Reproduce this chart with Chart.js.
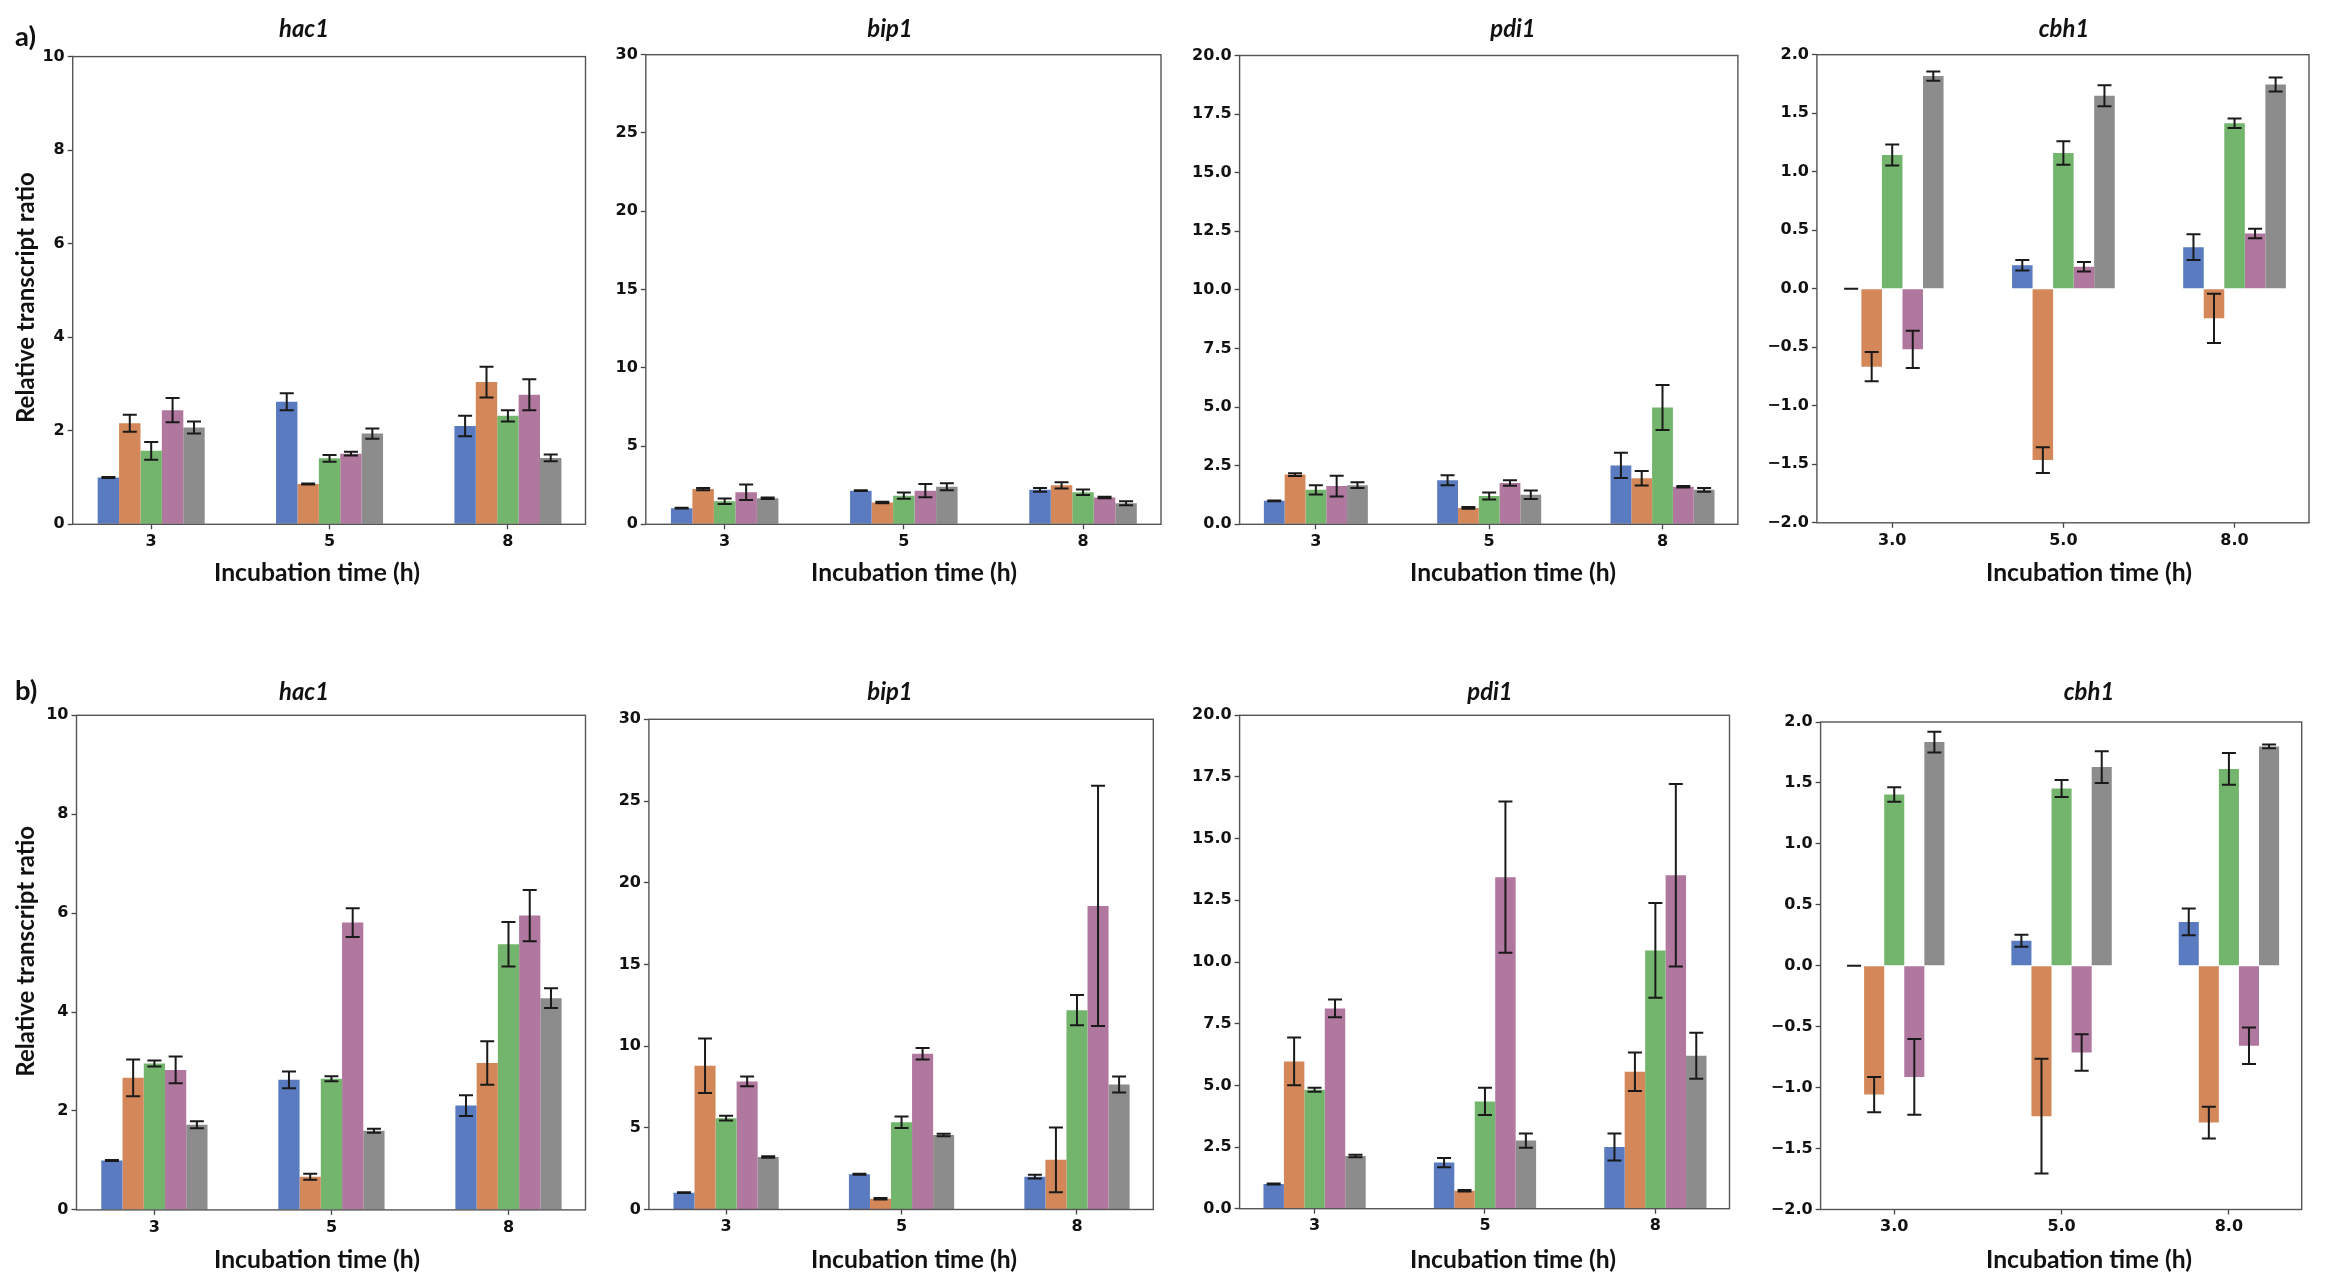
<!DOCTYPE html>
<html><head><meta charset="utf-8">
<script src="https://cdn.jsdelivr.net/npm/chart.js@4.4.1/dist/chart.umd.min.js"></script>
<style>
html,body{margin:0;padding:0;background:#fff;}
#wrap{position:relative;width:2328px;height:1288px;overflow:hidden;background:#fff;}
#wrap canvas{position:absolute;left:0;top:0;}
</style></head>
<body><div id="wrap"></div>
<script>
// ---------------- DATA ----------------
const timeLabels = ['3', '5', '8'];
const timeLabelsCbh = ['3.0', '5.0', '8.0'];
const seriesNames = ['Series 1', 'Series 2', 'Series 3', 'Series 4', 'Series 5'];
const seriesColors = ['#5A7BC0', '#D4885A', '#74B56D', '#B0779F', '#8C8C8C'];

// rows = series, columns = incubation time (3, 5, 8 h)
const hac1A    = [[1.00, 2.62, 2.10], [2.16, 0.86, 3.04], [1.57, 1.41, 2.32], [2.44, 1.51, 2.77], [2.07, 1.94, 1.42]];
const hac1AErr = [[0.01, 0.18, 0.22], [0.18, 0.01, 0.33], [0.19, 0.07, 0.12], [0.26, 0.04, 0.33], [0.13, 0.11, 0.07]];
const bip1A    = [[1.03, 2.15, 2.20], [2.25, 1.39, 2.49], [1.47, 1.83, 2.05], [2.05, 2.15, 1.71], [1.66, 2.40, 1.34]];
const bip1AErr = [[0.02, 0.03, 0.12], [0.07, 0.05, 0.20], [0.18, 0.20, 0.18], [0.49, 0.42, 0.05], [0.05, 0.22, 0.13]];
const pdi1A    = [[1.00, 1.88, 2.51], [2.12, 0.70, 1.96], [1.47, 1.21, 4.98], [1.63, 1.76, 1.60], [1.67, 1.26, 1.47]];
const pdi1AErr = [[0.02, 0.21, 0.54], [0.06, 0.04, 0.31], [0.20, 0.15, 0.96], [0.44, 0.12, 0.03], [0.12, 0.18, 0.08]];
const cbh1A    = [[0.00, 0.20, 0.355], [-0.666, -1.464, -0.253], [1.143, 1.16, 1.414], [-0.518, 0.188, 0.472], [1.817, 1.65, 1.745]];
const cbh1AErr = [[0.00, 0.045, 0.11], [0.125, 0.11, 0.21], [0.09, 0.10, 0.04], [0.16, 0.04, 0.04], [0.04, 0.09, 0.06]];

const hac1B    = [[1.00, 2.63, 2.11], [2.67, 0.67, 2.97], [2.96, 2.65, 5.37], [2.83, 5.81, 5.95], [1.72, 1.60, 4.28]];
const hac1BErr = [[0.01, 0.17, 0.21], [0.37, 0.06, 0.44], [0.06, 0.05, 0.45], [0.27, 0.29, 0.52], [0.07, 0.04, 0.20]];
const bip1B    = [[1.03, 2.16, 2.01], [8.80, 0.66, 3.04], [5.59, 5.34, 12.20], [7.84, 9.53, 18.58], [3.21, 4.56, 7.65]];
const bip1BErr = [[0.02, 0.03, 0.12], [1.67, 0.05, 1.98], [0.15, 0.35, 0.93], [0.30, 0.35, 7.35], [0.05, 0.07, 0.49]];
const pdi1B    = [[1.00, 1.87, 2.50], [5.97, 0.73, 5.55], [4.82, 4.35, 10.47], [8.12, 13.44, 13.52], [2.14, 2.76, 6.20]];
const pdi1BErr = [[0.02, 0.19, 0.55], [0.97, 0.03, 0.78], [0.08, 0.55, 1.92], [0.36, 3.07, 3.70], [0.05, 0.29, 0.93]];
const cbh1B    = [[0.00, 0.205, 0.36], [-1.057, -1.234, -1.287], [1.405, 1.455, 1.615], [-0.912, -0.712, -0.656], [1.835, 1.63, 1.80]];
const cbh1BErr = [[0.00, 0.05, 0.11], [0.145, 0.47, 0.13], [0.06, 0.07, 0.13], [0.31, 0.15, 0.15], [0.085, 0.13, 0.015]];

// ---------------- LAYOUT / STYLE ----------------
const W = 2328, H = 1288;
const rows = [
  {titleBase: 36.5, xTitleBase: 580.5, yTitleY: 297.6, letterBase: 46},
  {titleBase: 700,  xTitleBase: 1267.5, yTitleY: 951.3, letterBase: 700}
];
const panels = [
  {gene:'hac1', vals:hac1A, errs:hac1AErr, labels:timeLabels, y:[0,10,2,0],  area:[72.7,56.6,585.5,524.3],  titleX:304,  xTitleX:317,  row:0, yTitle:true, letter:'a)'},
  {gene:'bip1', vals:bip1A, errs:bip1AErr, labels:timeLabels, y:[0,30,5,0],  area:[645.8,54.7,1161,524.3],  titleX:890,  xTitleX:914,  row:0},
  {gene:'pdi1', vals:pdi1A, errs:pdi1AErr, labels:timeLabels, y:[0,20,2.5,1],area:[1239.6,55.5,1737.9,524.3],titleX:1513, xTitleX:1513, row:0},
  {gene:'cbh1', vals:cbh1A, errs:cbh1AErr, labels:timeLabelsCbh, y:[-2,2,0.5,1], area:[1816.9,54.7,2309,522.8], titleX:2064, xTitleX:2089, row:0},
  {gene:'hac1', vals:hac1B, errs:hac1BErr, labels:timeLabels, y:[0,10,2,0],  area:[76.5,715.3,585.5,1209.9], titleX:304,  xTitleX:317,  row:1, yTitle:true, letter:'b)'},
  {gene:'bip1', vals:bip1B, errs:bip1BErr, labels:timeLabels, y:[0,30,5,0],  area:[648.9,719.3,1153.3,1209.5],titleX:890,  xTitleX:914,  row:1},
  {gene:'pdi1', vals:pdi1B, errs:pdi1BErr, labels:timeLabels, y:[0,20,2.5,1],area:[1239.6,715.3,1729.5,1208.7],titleX:1490, xTitleX:1513, row:1},
  {gene:'cbh1', vals:cbh1B, errs:cbh1BErr, labels:timeLabelsCbh, y:[-2,2,0.5,1], area:[1820.6,722,2301.7,1209.5], titleX:2089, xTitleX:2089, row:1}
];
const TICK_FONT = {family:'DejaVu Sans', weight:'bold', size:16};
const TEXT_COLOR = '#111';
const Y_AXIS_W = 50, X_AXIS_H = 30;
// target rendered text widths (px) used to size the label fonts
const TEXT_FIT = {title: ['hac1', 50], xTitle: ['Incubation time (h)', 206], yTitle: ['Relative transcript ratio', 251], letter: ['a)', 21]};

function fittedFont(ctx, style, family, key) {
  const [sample, target] = TEXT_FIT[key];
  ctx.font = style + ' 20px ' + family;
  const w = ctx.measureText(sample).width || 1;
  const size = 20 * target / w;
  return style + ' ' + size.toFixed(2) + 'px ' + family;
}

const frameAndErrors = {
  id: 'frameAndErrors',
  afterDatasetsDraw(chart) {
    const ctx = chart.ctx, ys = chart.scales.y, a = chart.chartArea;
    ctx.save();
    ctx.strokeStyle = '#1a1a1a';
    ctx.lineWidth = 2;
    chart.data.datasets.forEach((ds, di) => {
      const meta = chart.getDatasetMeta(di);
      meta.data.forEach((bar, j) => {
        const v = ds.data[j].y, e = ds.errorBars[j];
        const x = bar.x, yHi = ys.getPixelForValue(v + e), yLo = ys.getPixelForValue(v - e);
        const cap = 7;
        ctx.beginPath();
        ctx.moveTo(x, yHi); ctx.lineTo(x, yLo);
        ctx.moveTo(x - cap, yHi); ctx.lineTo(x + cap, yHi);
        ctx.moveTo(x - cap, yLo); ctx.lineTo(x + cap, yLo);
        ctx.stroke();
      });
    });
    ctx.strokeStyle = '#555';
    ctx.lineWidth = 1.4;
    ctx.strokeRect(a.left, a.top, a.right - a.left, a.bottom - a.top);
    ctx.restore();
  }
};

const panelText = {
  id: 'panelText',
  afterDraw(chart, args, o) {
    const ctx = chart.ctx;
    ctx.save();
    ctx.fillStyle = TEXT_COLOR;
    ctx.textAlign = 'center';
    ctx.textBaseline = 'alphabetic';
    ctx.font = fittedFont(ctx, 'italic bold', 'Lato', 'title');
    ctx.fillText(o.title, o.titleX, o.titleBase);
    ctx.font = fittedFont(ctx, 'bold', 'Lato', 'xTitle');
    ctx.fillText(o.xTitle, o.xTitleX, o.xTitleBase);
    if (o.yTitle) {
      const f = fittedFont(ctx, 'bold', 'Lato', 'yTitle');
      ctx.save();
      ctx.translate(26, o.yTitleY);
      ctx.rotate(-Math.PI / 2);
      ctx.textBaseline = 'middle';
      ctx.font = f;
      ctx.fillText(o.yTitle, 0, 0);
      ctx.restore();
    }
    if (o.letter) {
      ctx.textAlign = 'left';
      ctx.font = fittedFont(ctx, 'bold', 'Lato', 'letter');
      ctx.fillText(o.letter, 15, o.letterBase);
    }
    ctx.restore();
  }
};

function fmtTick(v, dec) {
  const s = Math.abs(v).toFixed(dec);
  return (v < -1e-9 ? '\u2212' : '') + s;
}

const wrap = document.getElementById('wrap');
panels.forEach(p => {
  const cv = document.createElement('canvas');
  cv.width = W; cv.height = H;
  cv.style.width = W + 'px'; cv.style.height = H + 'px';
  wrap.appendChild(cv);
  const [L, T, R, B] = p.area;
  const r = rows[p.row];
  const [ymin, ymax, ystep, ydec] = p.y;
  new Chart(cv, {
    type: 'bar',
    data: {
      datasets: seriesNames.map((name, i) => ({
        label: name,
        data: p.vals[i].map((v, j) => ({x: j, y: v})),
        errorBars: p.errs[i],
        backgroundColor: seriesColors[i],
        borderWidth: 0,
        categoryPercentage: 0.6,
        barPercentage: 1.0
      }))
    },
    options: {
      responsive: false,
      animation: false,
      devicePixelRatio: 1,
      layout: {padding: {left: L - Y_AXIS_W, top: T, right: W - R, bottom: H - B - X_AXIS_H}},
      plugins: {
        legend: {display: false},
        tooltip: {enabled: false},
        panelText: {
          title: p.gene, titleX: p.titleX, titleBase: r.titleBase,
          xTitle: 'Incubation time (h)', xTitleX: p.xTitleX, xTitleBase: r.xTitleBase,
          yTitle: p.yTitle ? 'Relative transcript ratio' : null, yTitleY: r.yTitleY,
          letter: p.letter || null, letterBase: r.letterBase
        }
      },
      scales: {
        x: {
          type: 'linear', min: -0.44, max: 2.435, offset: false,
          afterBuildTicks: ax => { ax.ticks = p.labels.map((_, i) => ({value: i})); },
          afterFit: s => { s.height = X_AXIS_H; },
          ticks: {callback: v => p.labels[v], font: TICK_FONT, color: TEXT_COLOR, padding: 3, maxRotation: 0, autoSkip: false},
          grid: {display: true, drawOnChartArea: false, drawTicks: true, tickLength: 5, tickColor: '#444', tickWidth: 1.3, offset: false},
          border: {display: false}
        },
        y: {
          min: ymin, max: ymax,
          afterFit: s => { s.width = Y_AXIS_W; },
          ticks: {stepSize: ystep, callback: v => fmtTick(v, ydec), font: TICK_FONT, color: TEXT_COLOR, padding: 3, autoSkip: false},
          grid: {display: true, drawOnChartArea: false, drawTicks: true, tickLength: 5, tickColor: '#444', tickWidth: 1.3},
          border: {display: false}
        }
      }
    },
    plugins: [frameAndErrors, panelText]
  });
});
</script>
</body></html>
